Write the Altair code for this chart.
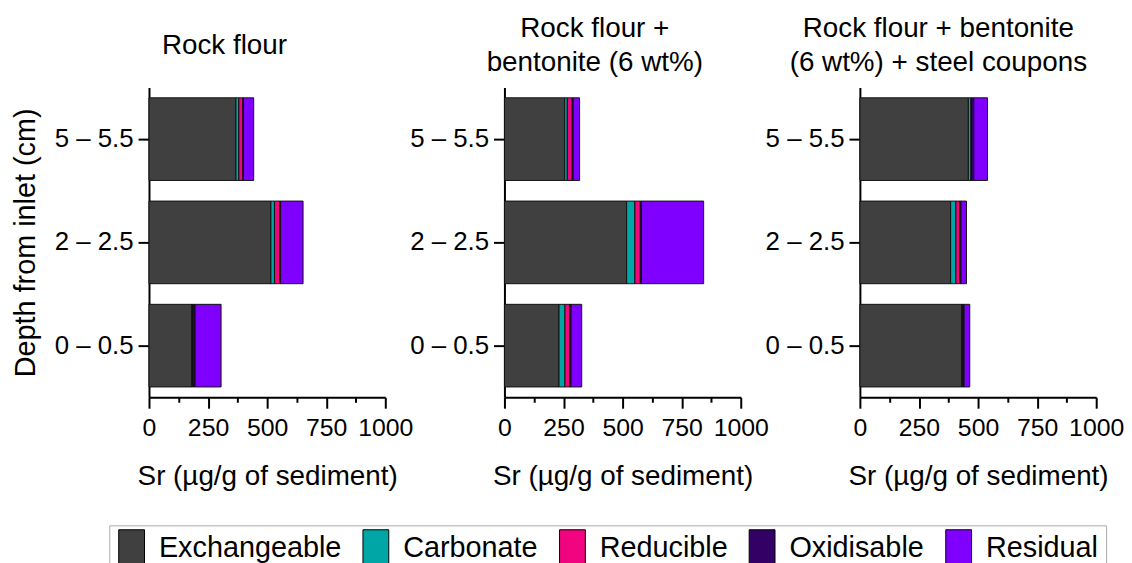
import altair as alt
import pandas as pd

depths = ["5 – 5.5", "2 – 2.5", "0 – 0.5"]
fractions = ["Exchangeable", "Carbonate", "Reducible", "Oxidisable", "Residual"]
colors = ["#404040", "#00A5A5", "#F0047F", "#330066", "#7F00FF"]

panels = ["Rock flour", "Rock flour + bentonite (6 wt%)", "Rock flour + bentonite (6 wt%) + steel coupons"]

# values per depth (top to bottom) for each fraction, in µg/g
rock_flour = {
    "5 – 5.5": [368, 12, 17, 3, 43],
    "2 – 2.5": [516, 15, 22, 4, 95],
    "0 – 0.5": [182, 2, 3, 8, 110],
}
rock_bentonite = {
    "5 – 5.5": [255, 11, 21, 4, 27],
    "2 – 2.5": [517, 35, 23, 5, 263],
    "0 – 0.5": [231, 25, 20, 6, 45],
}
rock_bentonite_steel = {
    "5 – 5.5": [459, 11, 2, 10, 58],
    "2 – 2.5": [384, 22, 16, 6, 23],
    "0 – 0.5": [431, 2, 2, 6, 24],
}

x_ticks = [0, 125, 250, 375, 500, 625, 750, 875, 1000]

rows = []
for pname, d in zip(panels, [rock_flour, rock_bentonite, rock_bentonite_steel]):
    for dep in depths:
        for i, (f, v) in enumerate(zip(fractions, d[dep])):
            rows.append({"panel": pname, "depth": dep, "fraction": f, "ord": i, "value": v})
df = pd.DataFrame(rows)

FONT = "Liberation Sans"

titles = [
    (["Rock flour"], -43, 5.5),
    (["Rock flour +", "bentonite (6 wt%)"], -28, -11.5),
    (["Rock flour + bentonite", "(6 wt%) + steel coupons"], -40, -11.5),
]


def panel_chart(i):
    ytitle = "Depth from inlet (cm)" if i == 0 else None
    yaxis_kw = dict(
        labelFontSize=26, labelFont=FONT, labelColor="black", labelPadding=5,
        tickSize=11, tickWidth=2, tickColor="black",
        domainColor="black", domainWidth=2,
        titleFontSize=29, titleFont=FONT, titleFontWeight="normal", titleColor="black",
        titlePadding=14,
    )
    if ytitle is None:
        yaxis = alt.Axis(title=None, **yaxis_kw)
    else:
        yaxis = alt.Axis(title=ytitle, **yaxis_kw)
    t, dx, off = titles[i]
    return (
        alt.Chart(df)
        .transform_filter(alt.datum.panel == panels[i])
        .mark_bar(stroke="#111111", strokeWidth=1)
        .encode(
            y=alt.Y("depth:N", sort=depths,
                    scale=alt.Scale(paddingInner=0.2, paddingOuter=0.1),
                    axis=yaxis),
            x=alt.X("value:Q", stack="zero",
                    scale=alt.Scale(domain=[0, 1000], nice=False),
                    axis=alt.Axis(
                        title="Sr (µg/g of sediment)", values=x_ticks,
                        labelExpr="datum.value % 250 === 0 ? '' + datum.value : ''",
                        labelOverlap=False, labelFlush=False,
                        labelFontSize=25, labelFont=FONT, labelColor="black", labelPadding=7,
                        tickSize={"condition": {"test": "datum.value % 250 === 0", "value": 11}, "value": 5},
                        tickWidth=2, tickColor="black",
                        domainColor="black", domainWidth=2, grid=False,
                        titleFontSize=28, titleFont=FONT, titleFontWeight="normal",
                        titleColor="black", titlePadding=23,
                    )),
            color=alt.Color("fraction:N", sort=fractions,
                            scale=alt.Scale(domain=fractions, range=colors),
                            legend=alt.Legend(
                                orient="none", legendX=-40, legendY=441,
                                direction="horizontal", columns=5, title=None,
                                symbolType="M-1,-1.4H1V1.4H-1Z", symbolSize=676,
                                symbolStrokeColor="black", symbolStrokeWidth=1,
                                symbolOpacity=1,
                                labelFontSize=29, labelFont=FONT, labelColor="black",
                                labelOffset=13, columnPadding=19, labelLimit=400,
                                strokeColor="#aaaaaa", fillColor="white", padding=8,
                            )),
            order=alt.Order("ord:Q"),
        )
        .properties(
            width=238, height=312,
            title=alt.TitleParams(
                text=t, fontSize=28, font=FONT, fontWeight="normal", color="black",
                anchor="middle", dx=dx, offset=off, lineHeight=34, baseline="alphabetic",
            ),
        )
    )


chart = (
    alt.hconcat(panel_chart(0), panel_chart(1), panel_chart(2), spacing=120, bounds="flush")
    .resolve_scale(color="shared")
    .properties(padding={"left": 3, "top": 5, "right": 0, "bottom": 5})
    .configure(font=FONT)
    .configure_view(stroke=None)
)

chart.save("out.html", embed_options={"renderer": "svg", "actions": False})
